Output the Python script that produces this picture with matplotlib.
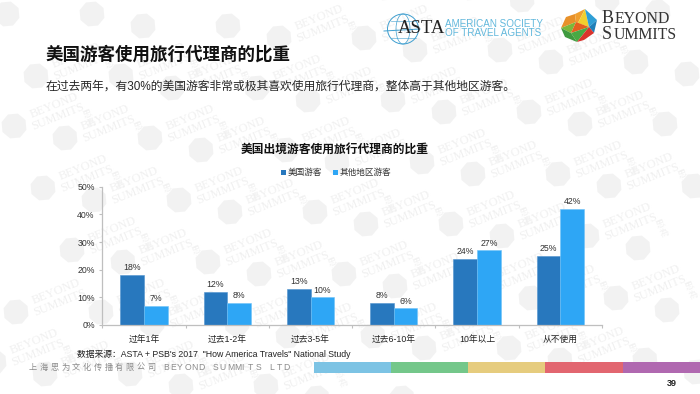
import numpy as np
import matplotlib
matplotlib.use('Agg')
import matplotlib.pyplot as plt
from matplotlib.patches import RegularPolygon, Polygon, Ellipse, Rectangle

plt.rcParams['font.family'] = ['Liberation Sans', 'Noto Sans CJK SC']

# chart data
categories = ['过年1年', '过去1-2年', '过去3-5年', '过去6-10年', '10年以上', '从不使用']
us_values = [18, 12, 13, 8, 24, 25]
other_values = [7, 8, 10, 6, 27, 42]
series_names = ['美国游客', '其他地区游客']
y_ticks = [0, 10, 20, 30, 40, 50]

title = '美国游客使用旅行代理商的比重'
subtitle = '在过去两年，有30%的美国游客非常或极其喜欢使用旅行代理商，整体高于其他地区游客。'
chart_title = '美国出境游客使用旅行代理商的比重'
source = '数据来源：ASTA + PSB\'s 2017  "How America Travels" National Study'
footer_cn = '上海思为文化传播有限公司'
footer_en = 'BEYOND SUMMITS LTD'
page = '39'

W, H = 700, 394
fig = plt.figure(figsize=(W / 100, H / 100), dpi=100, facecolor='white')

# whole slide overlay in pixel coordinates
bg = fig.add_axes([0, 0, 1, 1])
bg.set_xlim(0, W)
bg.set_ylim(H, 0)
bg.axis('off')

# watermark lattice
for i in range(-4, 7):
    for j in range(-1, 8):
        x = 7 + i * 136 + j * 29
        y = 14 + i * 12 + j * 62
        for dx in (0, 85):
            px, py = x + dx, y
            if px < -15 or px > W + 15 or py < -15 or py > H + 15:
                continue
            bg.add_patch(RegularPolygon((px, py), 8, radius=13, orientation=0.3,
                                        facecolor='#f2f2f2', edgecolor='none', zorder=1))
            if 35 < px + 42 < W - 35 and 20 < py - 15 < H - 20:
                bg.text(px + 42, py - 15, 'BEYOND\nSUMMITS', family='Liberation Serif', fontsize=8.8,
                        color='#f0f0f0', rotation=22, ha='center', va='center',
                        rotation_mode='anchor', linespacing=0.95, zorder=1)
                bg.text(px + 73, py - 12, '思', fontsize=6.5, color='#f1f1f1', rotation=22,
                        ha='center', va='center', zorder=1)
                bg.text(px + 78, py - 3, '為', fontsize=6.5, color='#f1f1f1', rotation=22,
                        ha='center', va='center', zorder=1)

# headings
bg.text(45.5, 54, title, fontsize=12.6, fontweight='bold', color='#111111', va='center', zorder=3)
bg.text(45.5, 86.5, subtitle, fontsize=8.5, color='#262626', va='center', zorder=3)
bg.text(334.5, 150, chart_title, fontsize=8.45, fontweight='bold', color='#111111',
        ha='center', va='center', zorder=3)

# ASTA logo
blue = '#3f9fd0'
bg.add_patch(Ellipse((403, 29), 31, 30, fill=False, edgecolor=blue, lw=0.7, zorder=3))
bg.add_patch(Ellipse((403, 29), 14, 30, fill=False, edgecolor=blue, lw=0.5, zorder=3))
bg.plot([384, 420], [31, 29], color=blue, lw=0.7, zorder=3)
bg.plot([391, 416], [21, 21], color=blue, lw=0.4, zorder=3)
bg.plot([391, 416], [38, 38], color=blue, lw=0.4, zorder=3)
bg.text(421, 28.5, 'ASTA', family='Liberation Serif', fontsize=13.5, color='#222222',
        ha='center', va='center', zorder=4)
bg.text(445, 24, 'AMERICAN SOCIETY', fontsize=7.1, color='#62b8dc', va='center', zorder=3)
bg.text(445, 33, 'OF TRAVEL AGENTS', fontsize=7.1, color='#62b8dc', va='center', zorder=3)

# Beyond Summits logo
facets = [
    ([(561, 28), (566, 17), (575, 14), (576, 22)], '#e8912a'),
    ([(575, 14), (585, 9), (578, 23), (576, 22)], '#f0a030'),
    ([(585, 9), (589, 27), (578, 23)], '#f2cf2e'),
    ([(585, 9), (597, 20), (589, 27)], '#2f9fd6'),
    ([(597, 20), (594, 33), (589, 27)], '#1f7fb8'),
    ([(561, 28), (576, 22), (571, 33)], '#7cb83a'),
    ([(561, 28), (571, 33), (577, 42), (565, 37)], '#3f9a3f'),
    ([(576, 22), (589, 27), (571, 33)], '#e4601f'),
    ([(571, 33), (589, 27), (577, 42)], '#49a943'),
    ([(589, 27), (594, 33), (584, 40), (577, 42)], '#d9332c'),
]
for pts, col in facets:
    bg.add_patch(Polygon(pts, closed=True, facecolor=col, edgecolor='none', zorder=3))
for tx, ty, s, fs in [(602, 18, 'B', 13), (615, 18.7, 'EYOND', 11.4),
                      (602, 34, 'S', 13), (614, 34.7, 'UMMITS', 11.4)]:
    bg.text(tx, ty, s, family='Liberation Serif', fontsize=fs, color='#333333', va='center', zorder=3)

# source and footer
bg.text(77, 354.5, source, fontsize=6.35, color='#222222', va='center', zorder=3)
for k, ch in enumerate(footer_cn):
    bg.text(29 + k * 10.75, 368, ch, fontsize=5.9, color='#8a8a8a', va='center', zorder=3)
for k, ch in enumerate(footer_en):
    bg.text(163 + k * 7.1, 368, ch, fontsize=6.2, color='#8a8a8a', va='center', zorder=3)
bg.text(672, 383.5, page, fontsize=6.5, fontweight='bold',
        color='#222222', ha='center', va='center', zorder=3)

band_edges = [314, 391, 468, 545, 623, 700]
band_colors = ['#7cc3e4', '#74c78a', '#e6cc7e', '#e26670', '#b068b0']
for k, col in enumerate(band_colors):
    bg.add_patch(Rectangle((band_edges[k], 362), band_edges[k + 1] - band_edges[k], 11,
                           facecolor=col, edgecolor='none', zorder=3))

# bar chart
ax = fig.add_axes([102.3 / W, 1 - 325 / H, 499.7 / W, 138.3 / H])
ax.patch.set_alpha(0)
x = np.arange(len(categories))
bw = 0.284
b1 = ax.bar(x - bw / 2, us_values, bw, color='#2878be', edgecolor='#4f93cf', linewidth=0.4)
b2 = ax.bar(x + bw / 2, other_values, bw, color='#2ea6f5', edgecolor='#70c2f8', linewidth=0.4)
for bars, vals in ((b1, us_values), (b2, other_values)):
    for r, v in zip(bars, vals):
        ax.text(r.get_x() + r.get_width() / 2, v + 1.0, f'{v}%', ha='center', va='bottom',
                fontsize=6.3, color='#333333')

ax.set_xlim(-0.5, 5.5)
ax.set_ylim(0, 50)
ax.set_yticks(y_ticks)
ax.set_yticklabels([f'{t}%' for t in y_ticks], fontsize=6.3, color='#333333')
ax.set_xticks(x)
ax.set_xticklabels(categories, fontsize=6.3, color='#222222')
ax.set_xticks(np.arange(-0.5, 6), minor=True)
ax.tick_params(axis='x', which='major', length=0, pad=7)
ax.tick_params(axis='x', which='minor', length=2.5, color='#bfbfbf', width=0.8)
ax.tick_params(axis='y', length=2.5, color='#bfbfbf', width=0.8, pad=3)
for s in ('top', 'right'):
    ax.spines[s].set_visible(False)
for s in ('left', 'bottom'):
    ax.spines[s].set_color('#bfbfbf')
    ax.spines[s].set_linewidth(0.9)

# legend drawn on the slide overlay so it can sit above the plot
bg.add_patch(Rectangle((280.5, 170), 5, 5, facecolor='#2878be', edgecolor='none', zorder=3))
bg.add_patch(Rectangle((333, 170), 5, 5, facecolor='#2ea6f5', edgecolor='none', zorder=3))
bg.text(288, 172.5, series_names[0], fontsize=6.2, color='#333333', va='center', zorder=3)
bg.text(340, 172.5, series_names[1], fontsize=6.2, color='#333333', va='center', zorder=3)

fig.savefig('out.png', dpi=100)
